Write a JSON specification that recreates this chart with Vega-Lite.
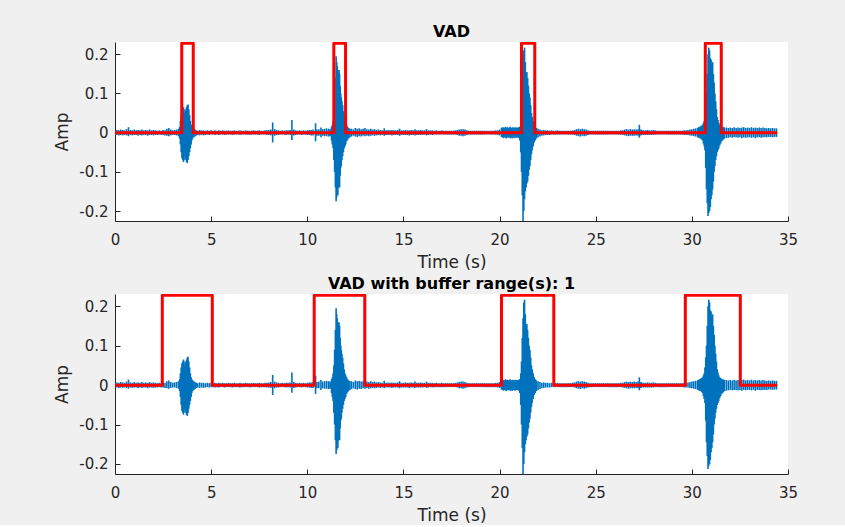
{
"$schema": "https://vega.github.io/schema/vega-lite/v6.json",
"background": "#f0f0f0",
"padding": {"left": 53, "top": 24, "right": 49, "bottom": 2},
"spacing": 6,
"config": {
  "view": {"fill": "white", "stroke": null},
  "axis": {"grid": false, "domainColor": "#262626", "tickColor": "#262626", "labelColor": "#262626", "titleColor": "#262626", "domainWidth": 1, "tickWidth": 1, "tickSize": -5, "labelFont": "DejaVu Sans", "labelFontSize": 15, "titleFont": "DejaVu Sans", "titleFontSize": 17, "titleFontWeight": "normal", "labelFlush": false, "labelOverlap": false, "labelBound": false},
  "title": {"font": "DejaVu Sans", "fontSize": 16, "fontWeight": "bold", "color": "#000000", "offset": 2}
},
"datasets": {
"sig": [
{"t":0.0,"hi":0.006,"lo":-0.006},{"t":0.1,"hi":0.007,"lo":-0.006},{"t":0.2,"hi":0.006,"lo":-0.007},{"t":0.3,"hi":0.008,"lo":-0.006},{"t":0.4,"hi":0.007,"lo":-0.007},{"t":0.5,"hi":0.006,"lo":-0.006},{"t":0.6,"hi":0.009,"lo":-0.007},{"t":0.7,"hi":0.014,"lo":-0.009},{"t":0.8,"hi":0.007,"lo":-0.006},{"t":0.9,"hi":0.006,"lo":-0.007},
{"t":1.0,"hi":0.008,"lo":-0.006},{"t":1.1,"hi":0.006,"lo":-0.006},{"t":1.2,"hi":0.007,"lo":-0.008},{"t":1.3,"hi":0.006,"lo":-0.006},{"t":1.4,"hi":0.008,"lo":-0.007},{"t":1.5,"hi":0.006,"lo":-0.006},{"t":1.6,"hi":0.007,"lo":-0.006},{"t":1.7,"hi":0.006,"lo":-0.008},{"t":1.8,"hi":0.008,"lo":-0.006},{"t":1.9,"hi":0.006,"lo":-0.006},
{"t":2.0,"hi":0.007,"lo":-0.007},{"t":2.1,"hi":0.006,"lo":-0.006},{"t":2.2,"hi":0.005,"lo":-0.006},{"t":2.3,"hi":0.006,"lo":-0.005},{"t":2.4,"hi":0.005,"lo":-0.006},{"t":2.5,"hi":0.007,"lo":-0.006},{"t":2.6,"hi":0.006,"lo":-0.007},{"t":2.7,"hi":0.010,"lo":-0.008},{"t":2.8,"hi":0.012,"lo":-0.009},{"t":2.9,"hi":0.008,"lo":-0.007},
{"t":3.0,"hi":0.006,"lo":-0.006},{"t":3.1,"hi":0.007,"lo":-0.006},{"t":3.2,"hi":0.008,"lo":-0.007},{"t":3.3,"hi":0.010,"lo":-0.009},
{"t":3.36,"hi":0.015,"lo":-0.015},{"t":3.40,"hi":0.03,"lo":-0.03},{"t":3.44,"hi":0.045,"lo":-0.05},{"t":3.48,"hi":0.055,"lo":-0.065},{"t":3.52,"hi":0.06,"lo":-0.07},{"t":3.56,"hi":0.065,"lo":-0.075},{"t":3.60,"hi":0.05,"lo":-0.06},{"t":3.64,"hi":0.06,"lo":-0.07},{"t":3.68,"hi":0.055,"lo":-0.065},{"t":3.72,"hi":0.065,"lo":-0.075},{"t":3.76,"hi":0.07,"lo":-0.078},{"t":3.80,"hi":0.072,"lo":-0.07},{"t":3.84,"hi":0.06,"lo":-0.06},{"t":3.88,"hi":0.045,"lo":-0.05},{"t":3.92,"hi":0.03,"lo":-0.04},{"t":3.96,"hi":0.02,"lo":-0.03},{"t":4.00,"hi":0.015,"lo":-0.02},{"t":4.04,"hi":0.012,"lo":-0.015},{"t":4.10,"hi":0.01,"lo":-0.012},{"t":4.16,"hi":0.008,"lo":-0.01},{"t":4.22,"hi":0.006,"lo":-0.008},{"t":4.30,"hi":0.005,"lo":-0.006},
{"t":4.4,"hi":0.007,"lo":-0.007},{"t":4.5,"hi":0.006,"lo":-0.006},{"t":4.6,"hi":0.006,"lo":-0.007},{"t":4.7,"hi":0.005,"lo":-0.006},{"t":4.8,"hi":0.006,"lo":-0.005},{"t":4.9,"hi":0.005,"lo":-0.006},
{"t":5.0,"hi":0.006,"lo":-0.005},{"t":5.1,"hi":0.005,"lo":-0.005},{"t":5.2,"hi":0.006,"lo":-0.006},{"t":5.3,"hi":0.005,"lo":-0.005},{"t":5.4,"hi":0.006,"lo":-0.006},{"t":5.5,"hi":0.005,"lo":-0.005},{"t":5.6,"hi":0.006,"lo":-0.005},{"t":5.7,"hi":0.005,"lo":-0.006},{"t":5.8,"hi":0.005,"lo":-0.005},{"t":5.9,"hi":0.006,"lo":-0.005},
{"t":6.0,"hi":0.005,"lo":-0.005},{"t":6.1,"hi":0.005,"lo":-0.006},{"t":6.2,"hi":0.006,"lo":-0.005},{"t":6.3,"hi":0.005,"lo":-0.005},{"t":6.4,"hi":0.005,"lo":-0.005},{"t":6.5,"hi":0.006,"lo":-0.006},{"t":6.6,"hi":0.005,"lo":-0.005},{"t":6.7,"hi":0.005,"lo":-0.005},{"t":6.8,"hi":0.006,"lo":-0.005},{"t":6.9,"hi":0.005,"lo":-0.005},
{"t":7.0,"hi":0.005,"lo":-0.006},{"t":7.1,"hi":0.005,"lo":-0.005},{"t":7.2,"hi":0.006,"lo":-0.005},{"t":7.3,"hi":0.005,"lo":-0.005},{"t":7.4,"hi":0.005,"lo":-0.005},{"t":7.5,"hi":0.006,"lo":-0.006},{"t":7.6,"hi":0.005,"lo":-0.005},{"t":7.7,"hi":0.005,"lo":-0.005},{"t":7.8,"hi":0.006,"lo":-0.005},{"t":7.9,"hi":0.006,"lo":-0.006},
{"t":8.0,"hi":0.007,"lo":-0.006},{"t":8.1,"hi":0.008,"lo":-0.007},{"t":8.2,"hi":0.026,"lo":-0.025},{"t":8.3,"hi":0.009,"lo":-0.008},{"t":8.4,"hi":0.007,"lo":-0.006},{"t":8.5,"hi":0.006,"lo":-0.006},{"t":8.6,"hi":0.005,"lo":-0.005},{"t":8.7,"hi":0.006,"lo":-0.005},{"t":8.8,"hi":0.005,"lo":-0.005},{"t":8.9,"hi":0.006,"lo":-0.006},
{"t":9.0,"hi":0.006,"lo":-0.005},{"t":9.1,"hi":0.007,"lo":-0.006},{"t":9.2,"hi":0.032,"lo":-0.019},{"t":9.3,"hi":0.008,"lo":-0.007},{"t":9.4,"hi":0.006,"lo":-0.006},{"t":9.5,"hi":0.005,"lo":-0.005},{"t":9.6,"hi":0.006,"lo":-0.005},{"t":9.7,"hi":0.005,"lo":-0.006},{"t":9.8,"hi":0.006,"lo":-0.005},{"t":9.9,"hi":0.005,"lo":-0.005},
{"t":10.0,"hi":0.006,"lo":-0.006},{"t":10.1,"hi":0.007,"lo":-0.006},{"t":10.2,"hi":0.007,"lo":-0.007},{"t":10.3,"hi":0.008,"lo":-0.007},{"t":10.43,"hi":0.024,"lo":-0.022},{"t":10.5,"hi":0.008,"lo":-0.008},{"t":10.6,"hi":0.009,"lo":-0.008},{"t":10.71,"hi":0.013,"lo":-0.012},{"t":10.8,"hi":0.009,"lo":-0.008},{"t":10.9,"hi":0.010,"lo":-0.009},{"t":11.0,"hi":0.011,"lo":-0.009},{"t":11.1,"hi":0.010,"lo":-0.010},{"t":11.18,"hi":0.009,"lo":-0.009},
{"t":11.22,"hi":0.008,"lo":-0.008},{"t":11.26,"hi":0.015,"lo":-0.02},{"t":11.30,"hi":0.02,"lo":-0.03},{"t":11.34,"hi":0.03,"lo":-0.04},{"t":11.38,"hi":0.05,"lo":-0.07},{"t":11.42,"hi":0.09,"lo":-0.10},{"t":11.46,"hi":0.14,"lo":-0.14},{"t":11.50,"hi":0.195,"lo":-0.175},{"t":11.53,"hi":0.18,"lo":-0.165},{"t":11.56,"hi":0.17,"lo":-0.15},{"t":11.59,"hi":0.16,"lo":-0.16},{"t":11.62,"hi":0.155,"lo":-0.14},{"t":11.65,"hi":0.16,"lo":-0.13},{"t":11.68,"hi":0.15,"lo":-0.14},{"t":11.71,"hi":0.12,"lo":-0.11},{"t":11.74,"hi":0.10,"lo":-0.09},{"t":11.77,"hi":0.09,"lo":-0.085},{"t":11.80,"hi":0.08,"lo":-0.07},{"t":11.84,"hi":0.07,"lo":-0.06},{"t":11.88,"hi":0.055,"lo":-0.05},{"t":11.92,"hi":0.04,"lo":-0.04},{"t":11.96,"hi":0.03,"lo":-0.035},{"t":12.00,"hi":0.025,"lo":-0.03},{"t":12.05,"hi":0.02,"lo":-0.022},{"t":12.10,"hi":0.015,"lo":-0.018},{"t":12.16,"hi":0.012,"lo":-0.014},{"t":12.22,"hi":0.01,"lo":-0.012},{"t":12.30,"hi":0.01,"lo":-0.01},{"t":12.40,"hi":0.008,"lo":-0.008},
{"t":12.5,"hi":0.012,"lo":-0.010},{"t":12.6,"hi":0.010,"lo":-0.011},{"t":12.7,"hi":0.011,"lo":-0.009},{"t":12.8,"hi":0.009,"lo":-0.010},{"t":12.9,"hi":0.010,"lo":-0.008},{"t":13.0,"hi":0.012,"lo":-0.009},{"t":13.1,"hi":0.009,"lo":-0.008},{"t":13.2,"hi":0.008,"lo":-0.009},{"t":13.3,"hi":0.010,"lo":-0.008},{"t":13.4,"hi":0.008,"lo":-0.007},{"t":13.5,"hi":0.009,"lo":-0.008},{"t":13.6,"hi":0.007,"lo":-0.007},{"t":13.7,"hi":0.008,"lo":-0.006},{"t":13.8,"hi":0.007,"lo":-0.007},{"t":13.9,"hi":0.006,"lo":-0.006},
{"t":14.0,"hi":0.011,"lo":-0.008},{"t":14.1,"hi":0.006,"lo":-0.006},{"t":14.2,"hi":0.007,"lo":-0.006},{"t":14.3,"hi":0.006,"lo":-0.006},{"t":14.4,"hi":0.007,"lo":-0.007},{"t":14.5,"hi":0.006,"lo":-0.006},{"t":14.6,"hi":0.006,"lo":-0.006},{"t":14.7,"hi":0.007,"lo":-0.006},{"t":14.8,"hi":0.010,"lo":-0.008},{"t":14.9,"hi":0.006,"lo":-0.006},
{"t":15.0,"hi":0.006,"lo":-0.006},{"t":15.1,"hi":0.007,"lo":-0.006},{"t":15.2,"hi":0.006,"lo":-0.006},{"t":15.3,"hi":0.006,"lo":-0.007},{"t":15.4,"hi":0.007,"lo":-0.006},{"t":15.5,"hi":0.006,"lo":-0.006},{"t":15.6,"hi":0.009,"lo":-0.007},{"t":15.7,"hi":0.006,"lo":-0.006},{"t":15.8,"hi":0.006,"lo":-0.006},{"t":15.9,"hi":0.007,"lo":-0.006},
{"t":16.0,"hi":0.006,"lo":-0.006},{"t":16.1,"hi":0.006,"lo":-0.005},{"t":16.2,"hi":0.009,"lo":-0.007},{"t":16.3,"hi":0.006,"lo":-0.006},{"t":16.4,"hi":0.006,"lo":-0.005},{"t":16.5,"hi":0.006,"lo":-0.006},{"t":16.6,"hi":0.005,"lo":-0.005},{"t":16.7,"hi":0.006,"lo":-0.005},{"t":16.8,"hi":0.005,"lo":-0.005},{"t":16.9,"hi":0.005,"lo":-0.005},
{"t":17.0,"hi":0.006,"lo":-0.005},{"t":17.1,"hi":0.005,"lo":-0.005},{"t":17.2,"hi":0.005,"lo":-0.005},{"t":17.3,"hi":0.005,"lo":-0.005},{"t":17.4,"hi":0.005,"lo":-0.005},{"t":17.5,"hi":0.005,"lo":-0.005},{"t":17.6,"hi":0.005,"lo":-0.005},{"t":17.7,"hi":0.006,"lo":-0.005},{"t":17.8,"hi":0.007,"lo":-0.006},{"t":17.9,"hi":0.008,"lo":-0.008},
{"t":18.0,"hi":0.009,"lo":-0.008},{"t":18.1,"hi":0.009,"lo":-0.009},{"t":18.2,"hi":0.008,"lo":-0.008},{"t":18.3,"hi":0.006,"lo":-0.006},{"t":18.4,"hi":0.005,"lo":-0.005},{"t":18.5,"hi":0.005,"lo":-0.005},{"t":18.6,"hi":0.005,"lo":-0.005},{"t":18.7,"hi":0.005,"lo":-0.005},{"t":18.8,"hi":0.005,"lo":-0.005},{"t":18.9,"hi":0.005,"lo":-0.005},
{"t":19.0,"hi":0.005,"lo":-0.005},{"t":19.1,"hi":0.005,"lo":-0.005},{"t":19.2,"hi":0.005,"lo":-0.005},{"t":19.3,"hi":0.005,"lo":-0.005},{"t":19.4,"hi":0.005,"lo":-0.005},{"t":19.5,"hi":0.005,"lo":-0.005},{"t":19.6,"hi":0.005,"lo":-0.005},{"t":19.7,"hi":0.005,"lo":-0.005},{"t":19.8,"hi":0.006,"lo":-0.005},{"t":19.9,"hi":0.006,"lo":-0.006},
{"t":20.0,"hi":0.008,"lo":-0.007},{"t":20.1,"hi":0.012,"lo":-0.011},{"t":20.15,"hi":0.014,"lo":-0.012},{"t":20.2,"hi":0.013,"lo":-0.014},{"t":20.25,"hi":0.012,"lo":-0.012},{"t":20.3,"hi":0.015,"lo":-0.013},{"t":20.35,"hi":0.013,"lo":-0.015},{"t":20.4,"hi":0.014,"lo":-0.012},{"t":20.45,"hi":0.012,"lo":-0.013},{"t":20.5,"hi":0.013,"lo":-0.012},{"t":20.55,"hi":0.015,"lo":-0.014},{"t":20.6,"hi":0.012,"lo":-0.012},{"t":20.65,"hi":0.013,"lo":-0.015},{"t":20.7,"hi":0.014,"lo":-0.013},{"t":20.75,"hi":0.012,"lo":-0.012},{"t":20.8,"hi":0.013,"lo":-0.014},{"t":20.85,"hi":0.014,"lo":-0.012},{"t":20.9,"hi":0.012,"lo":-0.013},{"t":20.95,"hi":0.013,"lo":-0.012},{"t":21.0,"hi":0.014,"lo":-0.014},
{"t":21.05,"hi":0.015,"lo":-0.02},{"t":21.10,"hi":0.03,"lo":-0.05},{"t":21.14,"hi":0.06,"lo":-0.10},{"t":21.18,"hi":0.12,"lo":-0.16},{"t":21.22,"hi":0.17,"lo":-0.228},{"t":21.26,"hi":0.21,"lo":-0.20},{"t":21.30,"hi":0.217,"lo":-0.17},{"t":21.34,"hi":0.18,"lo":-0.15},{"t":21.38,"hi":0.15,"lo":-0.14},{"t":21.42,"hi":0.155,"lo":-0.13},{"t":21.46,"hi":0.14,"lo":-0.125},{"t":21.50,"hi":0.12,"lo":-0.11},{"t":21.54,"hi":0.10,"lo":-0.095},{"t":21.58,"hi":0.09,"lo":-0.085},{"t":21.62,"hi":0.07,"lo":-0.07},{"t":21.66,"hi":0.05,"lo":-0.055},{"t":21.70,"hi":0.04,"lo":-0.045},{"t":21.75,"hi":0.03,"lo":-0.035},{"t":21.80,"hi":0.02,"lo":-0.025},{"t":21.86,"hi":0.015,"lo":-0.02},{"t":21.92,"hi":0.012,"lo":-0.015},{"t":22.0,"hi":0.01,"lo":-0.012},{"t":22.1,"hi":0.008,"lo":-0.01},{"t":22.2,"hi":0.006,"lo":-0.008},
{"t":22.3,"hi":0.007,"lo":-0.007},{"t":22.4,"hi":0.006,"lo":-0.006},{"t":22.5,"hi":0.006,"lo":-0.006},{"t":22.6,"hi":0.005,"lo":-0.006},{"t":22.7,"hi":0.006,"lo":-0.005},{"t":22.8,"hi":0.005,"lo":-0.005},{"t":22.9,"hi":0.005,"lo":-0.005},
{"t":23.0,"hi":0.006,"lo":-0.005},{"t":23.1,"hi":0.005,"lo":-0.005},{"t":23.2,"hi":0.005,"lo":-0.005},{"t":23.3,"hi":0.005,"lo":-0.005},{"t":23.4,"hi":0.005,"lo":-0.005},{"t":23.5,"hi":0.005,"lo":-0.005},{"t":23.6,"hi":0.005,"lo":-0.005},{"t":23.7,"hi":0.005,"lo":-0.005},{"t":23.8,"hi":0.006,"lo":-0.005},{"t":23.9,"hi":0.007,"lo":-0.006},
{"t":24.0,"hi":0.009,"lo":-0.008},{"t":24.1,"hi":0.010,"lo":-0.009},{"t":24.2,"hi":0.009,"lo":-0.010},{"t":24.3,"hi":0.010,"lo":-0.008},{"t":24.4,"hi":0.009,"lo":-0.009},{"t":24.5,"hi":0.008,"lo":-0.008},{"t":24.6,"hi":0.006,"lo":-0.006},{"t":24.7,"hi":0.005,"lo":-0.005},{"t":24.8,"hi":0.005,"lo":-0.005},{"t":24.9,"hi":0.005,"lo":-0.005},
{"t":25.0,"hi":0.005,"lo":-0.005},{"t":25.1,"hi":0.005,"lo":-0.005},{"t":25.2,"hi":0.005,"lo":-0.005},{"t":25.3,"hi":0.005,"lo":-0.005},{"t":25.4,"hi":0.005,"lo":-0.005},{"t":25.5,"hi":0.005,"lo":-0.005},{"t":25.6,"hi":0.005,"lo":-0.005},{"t":25.7,"hi":0.005,"lo":-0.005},{"t":25.8,"hi":0.005,"lo":-0.005},{"t":25.9,"hi":0.005,"lo":-0.005},
{"t":26.0,"hi":0.005,"lo":-0.005},{"t":26.1,"hi":0.005,"lo":-0.005},{"t":26.2,"hi":0.005,"lo":-0.005},{"t":26.3,"hi":0.006,"lo":-0.005},{"t":26.4,"hi":0.006,"lo":-0.006},{"t":26.5,"hi":0.008,"lo":-0.007},{"t":26.6,"hi":0.009,"lo":-0.008},{"t":26.7,"hi":0.008,"lo":-0.009},{"t":26.8,"hi":0.009,"lo":-0.008},{"t":26.9,"hi":0.008,"lo":-0.008},
{"t":27.0,"hi":0.009,"lo":-0.008},{"t":27.1,"hi":0.008,"lo":-0.007},{"t":27.2,"hi":0.009,"lo":-0.008},{"t":27.27,"hi":0.020,"lo":-0.013},{"t":27.35,"hi":0.008,"lo":-0.007},{"t":27.4,"hi":0.007,"lo":-0.006},{"t":27.5,"hi":0.006,"lo":-0.006},{"t":27.6,"hi":0.006,"lo":-0.006},{"t":27.7,"hi":0.007,"lo":-0.006},{"t":27.8,"hi":0.006,"lo":-0.006},{"t":27.9,"hi":0.006,"lo":-0.006},
{"t":28.0,"hi":0.007,"lo":-0.006},{"t":28.1,"hi":0.006,"lo":-0.005},{"t":28.2,"hi":0.005,"lo":-0.005},{"t":28.3,"hi":0.005,"lo":-0.005},{"t":28.4,"hi":0.005,"lo":-0.005},{"t":28.5,"hi":0.005,"lo":-0.005},{"t":28.6,"hi":0.005,"lo":-0.005},{"t":28.7,"hi":0.005,"lo":-0.005},{"t":28.8,"hi":0.005,"lo":-0.005},{"t":28.9,"hi":0.005,"lo":-0.005},
{"t":29.0,"hi":0.005,"lo":-0.005},{"t":29.1,"hi":0.005,"lo":-0.005},{"t":29.2,"hi":0.005,"lo":-0.005},{"t":29.3,"hi":0.005,"lo":-0.005},{"t":29.4,"hi":0.005,"lo":-0.005},{"t":29.5,"hi":0.005,"lo":-0.005},{"t":29.6,"hi":0.006,"lo":-0.006},{"t":29.7,"hi":0.006,"lo":-0.006},{"t":29.8,"hi":0.007,"lo":-0.006},{"t":29.9,"hi":0.008,"lo":-0.007},
{"t":30.0,"hi":0.009,"lo":-0.008},{"t":30.1,"hi":0.010,"lo":-0.009},{"t":30.2,"hi":0.011,"lo":-0.010},{"t":30.3,"hi":0.012,"lo":-0.012},{"t":30.35,"hi":0.014,"lo":-0.013},{"t":30.4,"hi":0.015,"lo":-0.014},{"t":30.45,"hi":0.016,"lo":-0.015},{"t":30.5,"hi":0.018,"lo":-0.017},{"t":30.55,"hi":0.020,"lo":-0.020},
{"t":30.60,"hi":0.025,"lo":-0.028},{"t":30.64,"hi":0.03,"lo":-0.035},{"t":30.68,"hi":0.045,"lo":-0.045},{"t":30.72,"hi":0.07,"lo":-0.09},{"t":30.76,"hi":0.10,"lo":-0.145},{"t":30.80,"hi":0.15,"lo":-0.18},{"t":30.84,"hi":0.20,"lo":-0.213},{"t":30.88,"hi":0.217,"lo":-0.205},{"t":30.92,"hi":0.21,"lo":-0.20},{"t":30.96,"hi":0.19,"lo":-0.19},{"t":31.00,"hi":0.187,"lo":-0.17},{"t":31.04,"hi":0.175,"lo":-0.16},{"t":31.08,"hi":0.18,"lo":-0.145},{"t":31.12,"hi":0.15,"lo":-0.125},{"t":31.16,"hi":0.128,"lo":-0.10},{"t":31.20,"hi":0.10,"lo":-0.085},{"t":31.24,"hi":0.08,"lo":-0.07},{"t":31.28,"hi":0.06,"lo":-0.06},{"t":31.32,"hi":0.04,"lo":-0.05},{"t":31.36,"hi":0.032,"lo":-0.045},{"t":31.40,"hi":0.025,"lo":-0.04},{"t":31.45,"hi":0.02,"lo":-0.033},{"t":31.50,"hi":0.018,"lo":-0.028},{"t":31.55,"hi":0.016,"lo":-0.022},{"t":31.60,"hi":0.015,"lo":-0.02},{"t":31.65,"hi":0.014,"lo":-0.017},{"t":31.7,"hi":0.013,"lo":-0.015},
{"t":31.8,"hi":0.013,"lo":-0.014},{"t":31.9,"hi":0.012,"lo":-0.013},{"t":32.0,"hi":0.013,"lo":-0.012},{"t":32.1,"hi":0.012,"lo":-0.013},{"t":32.2,"hi":0.014,"lo":-0.012},{"t":32.3,"hi":0.012,"lo":-0.012},{"t":32.4,"hi":0.013,"lo":-0.013},{"t":32.5,"hi":0.012,"lo":-0.012},{"t":32.6,"hi":0.013,"lo":-0.014},{"t":32.7,"hi":0.014,"lo":-0.012},{"t":32.8,"hi":0.012,"lo":-0.013},{"t":32.9,"hi":0.013,"lo":-0.012},
{"t":33.0,"hi":0.012,"lo":-0.012},{"t":33.1,"hi":0.014,"lo":-0.013},{"t":33.2,"hi":0.012,"lo":-0.012},{"t":33.3,"hi":0.013,"lo":-0.014},{"t":33.4,"hi":0.012,"lo":-0.012},{"t":33.5,"hi":0.013,"lo":-0.012},{"t":33.6,"hi":0.012,"lo":-0.013},{"t":33.7,"hi":0.013,"lo":-0.012},{"t":33.8,"hi":0.012,"lo":-0.012},{"t":33.9,"hi":0.011,"lo":-0.012},
{"t":34.0,"hi":0.012,"lo":-0.011},{"t":34.1,"hi":0.011,"lo":-0.011},{"t":34.2,"hi":0.012,"lo":-0.012},{"t":34.3,"hi":0.011,"lo":-0.011},{"t":34.4,"hi":0.011,"lo":-0.011}
],
"vad1": [
{"t":0,"v":0},{"t":3.47,"v":0.228},{"t":4.07,"v":0},{"t":11.38,"v":0.228},{"t":11.99,"v":0},{"t":21.14,"v":0.228},{"t":21.83,"v":0},{"t":30.70,"v":0.228},{"t":31.53,"v":0},{"t":34.44,"v":0}
],
"vad2": [
{"t":0,"v":0},{"t":2.46,"v":0.228},{"t":5.06,"v":0},{"t":10.36,"v":0.228},{"t":12.99,"v":0},{"t":20.10,"v":0.228},{"t":22.82,"v":0},{"t":29.66,"v":0.228},{"t":32.52,"v":0},{"t":34.44,"v":0}
]
},
"vconcat": [
{
  "title": "VAD",
  "width": 673, "height": 179,
  "layer": [
    {"data": {"name": "sig"}, "mark": {"type": "rule", "color": "#0072BD", "strokeWidth": 1.6, "clip": true},
     "encoding": {
       "x": {"field": "t", "type": "quantitative", "scale": {"domain": [0, 35], "nice": false}, "axis": {"values": [0,5,10,15,20,25,30,35], "title": "Time (s)", "labelPadding": 16, "titlePadding": 7}},
       "y": {"field": "lo", "type": "quantitative", "scale": {"domain": [-0.2255, 0.2314], "nice": false, "zero": false}, "axis": {"values": [-0.2,-0.1,0,0.1,0.2], "title": "Amp", "labelPadding": 12, "titlePadding": 7, "labelExpr": "toString(datum.value)"}},
       "y2": {"field": "hi"}
     }},
    {"data": {"name": "vad1"}, "mark": {"type": "line", "color": "#FF0000", "strokeWidth": 3, "interpolate": "step-after", "strokeJoin": "round", "clip": true},
     "encoding": {"x": {"field": "t", "type": "quantitative"}, "y": {"field": "v", "type": "quantitative"}}}
  ]
},
{
  "title": "VAD with buffer range(s): 1",
  "width": 673, "height": 180,
  "layer": [
    {"data": {"name": "sig"}, "mark": {"type": "rule", "color": "#0072BD", "strokeWidth": 1.6, "clip": true},
     "encoding": {
       "x": {"field": "t", "type": "quantitative", "scale": {"domain": [0, 35], "nice": false}, "axis": {"values": [0,5,10,15,20,25,30,35], "title": "Time (s)", "labelPadding": 16, "titlePadding": 7}},
       "y": {"field": "lo", "type": "quantitative", "scale": {"domain": [-0.2255, 0.2314], "nice": false, "zero": false}, "axis": {"values": [-0.2,-0.1,0,0.1,0.2], "title": "Amp", "labelPadding": 12, "titlePadding": 7, "labelExpr": "toString(datum.value)"}},
       "y2": {"field": "hi"}
     }},
    {"data": {"name": "vad2"}, "mark": {"type": "line", "color": "#FF0000", "strokeWidth": 3, "interpolate": "step-after", "strokeJoin": "round", "clip": true},
     "encoding": {"x": {"field": "t", "type": "quantitative"}, "y": {"field": "v", "type": "quantitative"}}}
  ]
}
]
}
